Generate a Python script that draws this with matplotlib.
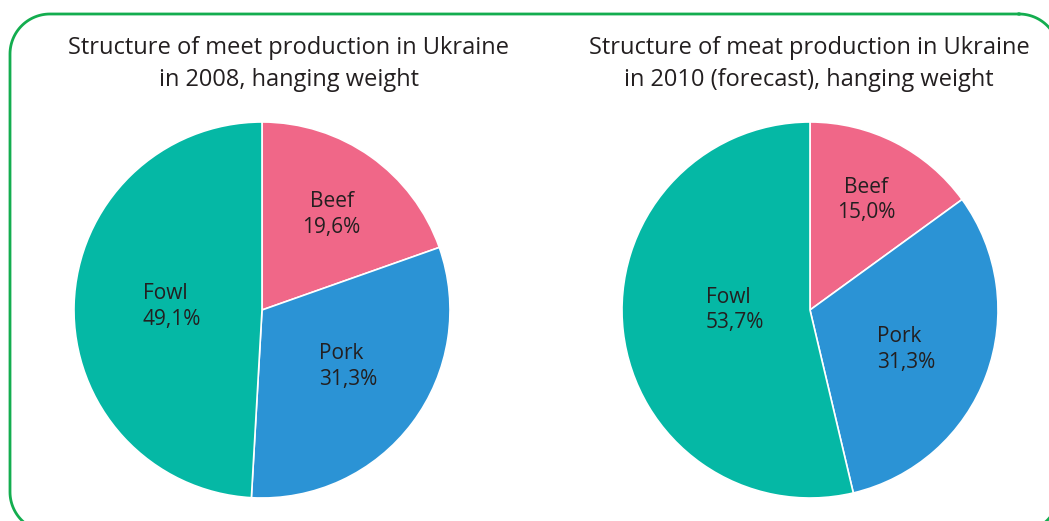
import matplotlib.pyplot as plt
import numpy as np
from matplotlib.lines import Line2D

plt.rcParams['font.family'] = ['Open Sans', 'DejaVu Sans']

categories = ['Beef', 'Pork', 'Fowl']
values_2008 = [19.6, 31.3, 49.1]
values_2010 = [15.0, 31.3, 53.7]
pct_2008 = ['19,6%', '31,3%', '49,1%']
pct_2010 = ['15,0%', '31,3%', '53,7%']
title_2008 = 'Structure of meet production in Ukraine\nin 2008, hanging weight'
title_2010 = 'Structure of meat production in Ukraine\nin 2010 (forecast), hanging weight'

colors = ['#f06788', '#2b93d5', '#05b8a5']
TXT = '#231f20'
W, H = 1049, 521

fig = plt.figure(figsize=(W / 100, H / 100), dpi=100)


def rounded_frame(x0, x1, y0, y1, r):
    # polyline of a rounded rectangle in pixel (display) coords
    pts = []
    corners = [((x1 - r, y1 - r), 90, 0), ((x1 - r, y0 + r), 0, -90),
               ((x0 + r, y0 + r), -90, -180), ((x0 + r, y1 - r), 180, 90)]
    for (cx, cy), a0, a1 in corners:
        t = np.deg2rad(np.linspace(a0, a1, 30))
        pts.append(np.column_stack([cx + r * np.cos(t), cy + r * np.sin(t)]))
    pts = np.vstack(pts + [pts[0][:1]])
    return pts


fp = rounded_frame(10, 1059, -11, 507, 40)
fig.add_artist(Line2D(fp[:, 0], fp[:, 1], transform=None, color='#13ad4f',
                      linewidth=2.0, solid_joinstyle='round'))


def draw_pie(cx, vals, pcts, label_xy, label_ha):
    r = 188
    cy = 310
    ax = fig.add_axes([(cx - r) / W, (H - cy - r) / H, 2 * r / W, 2 * r / H])
    ax.pie(vals, colors=colors, startangle=90, counterclock=False,
           wedgeprops=dict(edgecolor='white', linewidth=1.2))
    for name, p, (x, y), ha in zip(categories, pcts, label_xy, label_ha):
        ax.text(x, y, name + '\n' + p, ha='center', va='center', multialignment=ha,
                fontsize=15, color=TXT, linespacing=1.3)
    ax.set_xlim(-1, 1)
    ax.set_ylim(-1, 1)
    ax.set_aspect('equal')
    ax.axis('off')


draw_pie(262, values_2008, pct_2008,
         [(0.37, 0.51), (0.46, -0.30), (-0.48, 0.02)], ['center', 'left', 'left'])
draw_pie(810, values_2010, pct_2010,
         [(0.30, 0.585), (0.51, -0.21), (-0.40, 0.0)], ['center', 'left', 'left'])

fig.text(289 / W, (H - 64) / H, title_2008, ha='center', va='center', fontsize=17,
         color=TXT, linespacing=1.42)
fig.text(809 / W, (H - 64) / H, title_2010, ha='center', va='center', fontsize=17,
         color=TXT, linespacing=1.42)

fig.savefig('out.png', dpi=100)
